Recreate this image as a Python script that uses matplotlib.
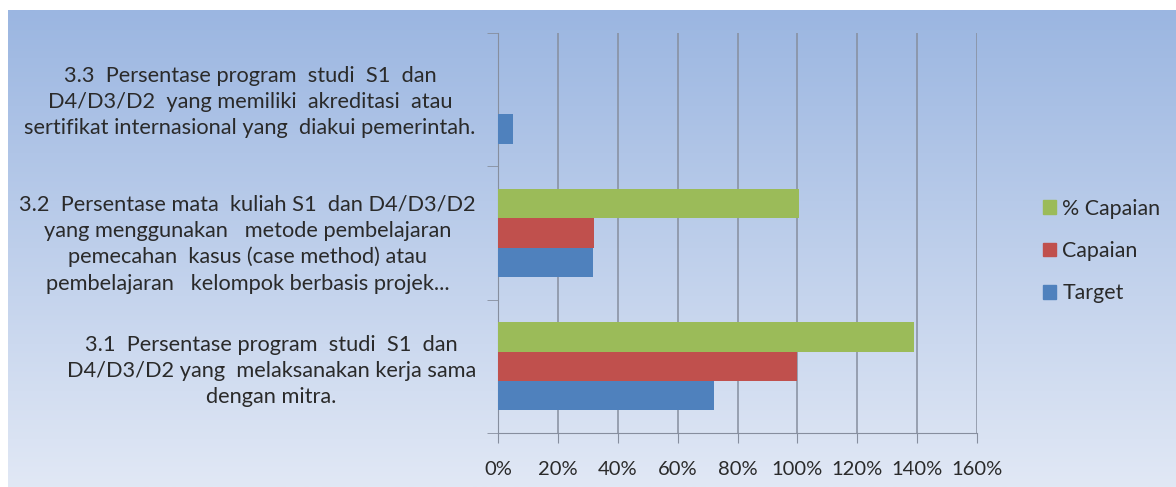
import numpy as np
import matplotlib.pyplot as plt
from matplotlib.transforms import ScaledTranslation
from matplotlib.patches import Patch


categories = [
    '3.1  Persentase program  studi  S1  dan\nD4/D3/D2 yang  melaksanakan kerja sama\ndengan mitra.',
    '3.2  Persentase mata  kuliah S1  dan D4/D3/D2\nyang menggunakan   metode pembelajaran\npemecahan  kasus (case method) atau\npembelajaran   kelompok berbasis projek...',
    '3.3  Persentase program  studi  S1  dan\nD4/D3/D2  yang memiliki  akreditasi  atau\nsertifikat internasional yang  diakui pemerintah.',
]
target = [72, 31.7, 5.1]
capaian = [100, 32.2, 0]
persen_capaian = [139, 100.4, 0]

x_ticks = [0, 20, 40, 60, 80, 100, 120, 140, 160]

c_blue = '#4f81bd'
c_red = '#c0504d'
c_green = '#9bbb59'
c_text = '#2a2a2a'
c_grid = '#868e9e'

plt.rcParams['font.family'] = ['Lato', 'DejaVu Sans']

fig = plt.figure(figsize=(11.76, 4.87), dpi=100)
fig.patch.set_facecolor('white')

# gradient background
bg = fig.add_axes([8/1176, 0, 1 - 8/1176, 1 - 10/487], zorder=-1)
top = np.array([155, 182, 225]) / 255
bot = np.array([225, 232, 245]) / 255
t = np.linspace(0, 1, 256)[:, None]
grad = top[None, :] * (1 - t) + bot[None, :] * t
bg.imshow(grad[:, None, :], aspect='auto', extent=[0, 1, 0, 1])
bg.axis('off')

ax = fig.add_axes([498/1176, 1 - 433/487, (977 - 498)/1176, 400/487])
ax.patch.set_alpha(0)

y = np.arange(len(categories))
h = 0.22
ax.barh(y - h, target, height=h, color=c_blue, zorder=3)
ax.barh(y, capaian, height=h, color=c_red, zorder=3)
ax.barh(y + h, persen_capaian, height=h, color=c_green, zorder=3)

ax.set_xlim(0, 160)
ax.set_ylim(-0.5, 2.5)
ax.set_xticks(x_ticks)
ax.set_xticklabels([f'{v}%' for v in x_ticks], fontsize=14.5, color=c_text)
ax.tick_params(axis='x', length=7, color=c_grid, pad=13)
ax.xaxis.grid(True, color=c_grid, linewidth=1.1, zorder=0)

ax.set_yticks(y)
ax.set_yticklabels(categories, fontsize=15.7, color=c_text,
                   ha='right', multialignment='center', linespacing=1.38)
ax.set_yticks([-0.5, 0.5, 1.5, 2.5], minor=True)
ax.tick_params(axis='y', which='major', length=0, pad=16)
ax.tick_params(axis='y', which='minor', length=8, color=c_grid)

lab = ax.get_yticklabels()[1]
lab.set_transform(lab.get_transform() + ScaledTranslation(0, -0.06, fig.dpi_scale_trans))
lab3 = ax.get_yticklabels()[2]
lab3.set_transform(lab3.get_transform() + ScaledTranslation(0, 0.03, fig.dpi_scale_trans))

for s in ['top', 'right']:
    ax.spines[s].set_visible(False)
ax.spines['left'].set_color(c_grid)
ax.spines['bottom'].set_color(c_grid)
ax.spines['bottom'].set_bounds(0, 160)

handles = [Patch(color=c_green), Patch(color=c_red), Patch(color=c_blue)]
fig.legend(handles, ['% Capaian', 'Capaian', 'Target'], loc='center left',
           bbox_to_anchor=(1034/1176, 1 - 251/487), frameon=False,
           fontsize=15.4, labelcolor=c_text, handlelength=0.62, handleheight=0.62,
           handletextpad=0.3, labelspacing=1.05, borderaxespad=0)

plt.savefig('out.png', dpi=100)
